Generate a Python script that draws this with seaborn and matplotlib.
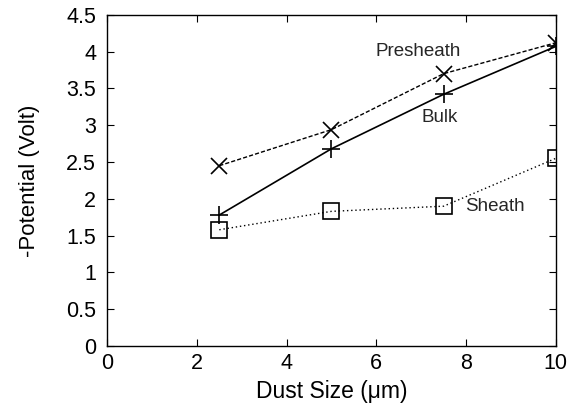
import matplotlib
matplotlib.use("Agg")
import matplotlib.pyplot as plt
import seaborn as sns
import pandas as pd

dust_size = [2.5, 5.0, 7.5, 10.0]
bulk = [1.78, 2.68, 3.42, 4.07]
presheath = [2.45, 2.94, 3.70, 4.12]
sheath = [1.58, 1.83, 1.90, 2.55]

sns.set_theme(style="ticks")
plt.rcParams['font.family'] = ['Liberation Sans', 'DejaVu Sans']

fig = plt.figure(figsize=(5.7, 4.11), dpi=100)
ax = fig.add_axes([0.188, 0.158, 0.787, 0.806])

df = pd.DataFrame({"x": dust_size, "Bulk": bulk, "Presheath": presheath, "Sheath": sheath})

sns.lineplot(data=df, x="x", y="Presheath", ax=ax, color="black", lw=1.0,
             linestyle=(0, (3, 1.5)), marker="x", markersize=12, markeredgewidth=1.2,
             markeredgecolor="black")
sns.lineplot(data=df, x="x", y="Bulk", ax=ax, color="black", lw=1.2,
             linestyle="-", marker="+", markersize=13, markeredgewidth=1.2,
             markeredgecolor="black")
sns.lineplot(data=df, x="x", y="Sheath", ax=ax, color="black", lw=1.0,
             linestyle=(0, (1, 2)), marker="s", markersize=12, markeredgewidth=1.2,
             markerfacecolor="none", markeredgecolor="black")

ax.text(6.93, 4.0, "Presheath", fontsize=13.5, ha="center", va="center")
ax.text(7.42, 3.11, "Bulk", fontsize=13.5, ha="center", va="center")
ax.text(8.64, 1.89, "Sheath", fontsize=13.5, ha="center", va="center")

ax.set_xlim(0, 10)
ax.set_ylim(0, 4.5)
ax.set_xticks([0, 2, 4, 6, 8, 10])
ax.set_yticks([0, 0.5, 1, 1.5, 2, 2.5, 3, 3.5, 4, 4.5])
ax.set_yticklabels(["0", "0.5", "1", "1.5", "2", "2.5", "3", "3.5", "4", "4.5"])
ax.tick_params(direction="in", top=True, right=True, length=5, width=0.8,
               labelsize=15.5, colors="black")
ax.tick_params(axis="x", pad=5)
ax.tick_params(axis="y", pad=8)
for s in ax.spines.values():
    s.set_visible(True)
    s.set_color("black")
    s.set_linewidth(1.0)
ax.set_xlabel("Dust Size (\u03bcm)", fontsize=16.5, color="black", labelpad=4)
ax.set_ylabel("-Potential (Volt)", fontsize=16, color="black", labelpad=19)

fig.savefig("out.png", dpi=100)
